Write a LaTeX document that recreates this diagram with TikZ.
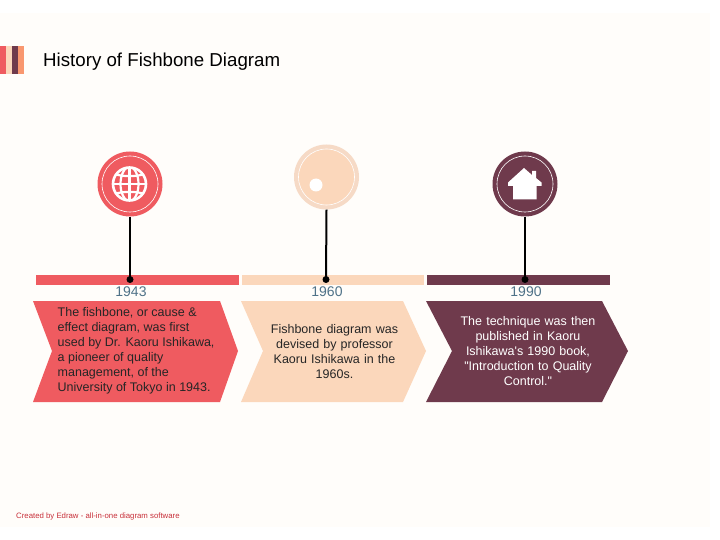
\documentclass[tikz,border=0pt]{standalone}
\usepackage{fontspec}
\setmainfont{Liberation Sans}[Ligatures=TeXOff]
\definecolor{bgc}{HTML}{FFFDFA}
\definecolor{redc}{HTML}{EF5B60}
\definecolor{peach}{HTML}{FBD7BB}
\definecolor{peachring}{HTML}{F6DAC6}
\definecolor{plum}{HTML}{6F3A4C}
\definecolor{orangec}{HTML}{F9976F}
\definecolor{yearc}{HTML}{4F7288}
\definecolor{credit}{HTML}{C8303A}
\tikzset{
  x=1pt,y=-1pt,
  stem/.style={line width=2pt,black},
  ringw/.style={draw=white,line width=.6pt},
  dotn/.style={circle,fill=black,minimum size=7pt,inner sep=0pt},
  body/.style={align=center,font=\fontsize{12.5}{15}\selectfont,inner sep=0pt,text width=#1},
  year/.style={font=\fontsize{14}{15}\selectfont,text=yearc,inner sep=0pt},
  gridl/.style={white,line width=2.2pt},
}
\begin{document}
\begin{tikzpicture}
\useasboundingbox (0,0) rectangle (720,540);
\fill[white] (0,0) rectangle (720,540);
\fill[bgc] (0,13) rectangle (710,527);
% corner stripes
\fill[redc] (0,46) rectangle (6,74);
\fill[peach] (6,46) rectangle (12,74);
\fill[plum] (12,46) rectangle (18,74);
\fill[orangec] (18,46) rectangle (24,74);
\node[anchor=base west,inner sep=0pt,font=\fontsize{18.7}{22}\selectfont] (title) at (43,66.5) {History of Fishbone Diagram};
% bars
\fill[redc] (36,275) rectangle (239,285);
\fill[peach] (242,275) rectangle (424,285);
\fill[plum] (427,275) rectangle (610,285);
% circles
\node[circle,fill=redc,minimum size=65pt,inner sep=0pt] (c1) at (130,184) {};
\node[circle,fill=peachring,minimum size=65pt,inner sep=0pt] (c2) at (326.5,177) {};
\node[circle,fill=plum,minimum size=65pt,inner sep=0pt] (c3) at (525,184) {};
\fill[peach] (c2.center) circle[radius=28];
\draw[ringw] (c1.center) circle[radius=28];
\draw[ringw] (c2.center) circle[radius=28];
\draw[ringw] (c3.center) circle[radius=28];
% dots and stems
\node[dotn] (d1) at (130,279.5) {};
\node[dotn] (d2) at (326,279.5) {};
\node[dotn] (d3) at (525,279.5) {};
\draw[stem] (c1.south) -- (d1.center);
\draw[stem] (c2.south) -- (d2.center);
\draw[stem] (c3.south) -- (d3.center);
% globe
\begin{scope}[shift={(129.5,184)}]
\fill[redc] (0,0) circle[radius=16.5];
\begin{scope}
\clip (0,0) circle[radius=16.5];
\draw[gridl] (0,-18) -- (0,18);
\draw[gridl] (-18,0) -- (18,0);
\draw[gridl] (0,0) ellipse[x radius=9, y radius=17];
\draw[gridl] (-17,-10.5) .. controls (-7,-7) and (7,-7) .. (17,-10.5);
\draw[gridl] (-17,10.5) .. controls (-7,7) and (7,7) .. (17,10.5);
\end{scope}
\draw[white,line width=2.6pt] (0,0) circle[radius=16.5];
\end{scope}
% white dot
\fill[white] (316,185) circle[radius=6.5];
% house
\fill[white] (513,199.5) -- (513,186) -- (508,186) -- (508,182.5) -- (524,168) -- (532,175) -- (532,171) -- (536,171) -- (536,178) -- (541.5,182.5) -- (541.5,186) -- (536.5,186) -- (536.5,199.5) -- cycle;
% years
\node[year] (y1) at (131,292) {1943};
\node[year] (y2) at (327,292) {1960};
\node[year] (y3) at (526,292) {1990};
% chevrons
\fill[redc] (33,301) -- (220,301) -- (238,351) -- (220,402) -- (33,402) -- (52,351) -- cycle;
\fill[peach] (241,301) -- (403,301) -- (426,351) -- (403,402) -- (241,402) -- (263,351) -- cycle;
\fill[plum] (426,301) -- (602,301) -- (628,351) -- (602,402) -- (426,402) -- (452,351) -- cycle;
\node[anchor=north west,align=left,inner sep=0pt,font=\fontsize{12.5}{15}\selectfont,text=black!85] (t1) at (57.5,307.5) {The fishbone, or cause \&\\effect diagram, was first\\used by Dr. Kaoru Ishikawa,\\a pioneer of quality\\management, of the\\University of Tokyo in 1943.};
\node[body=160pt,text=black!85] (t2) at (334.5,351.5) {Fishbone diagram was\\devised by professor\\Kaoru Ishikawa in the\\1960s.};
\node[body=170pt,text=white] (t3) at (528,351.5) {The technique was then\\published in Kaoru\\Ishikawa's 1990 book,\\"Introduction to Quality\\Control."};
\node[anchor=base west,inner sep=0pt,font=\fontsize{7.8}{9}\selectfont,text=credit] (cr) at (16,518) {Created by Edraw - all-in-one diagram software};
\end{tikzpicture}
\end{document}
